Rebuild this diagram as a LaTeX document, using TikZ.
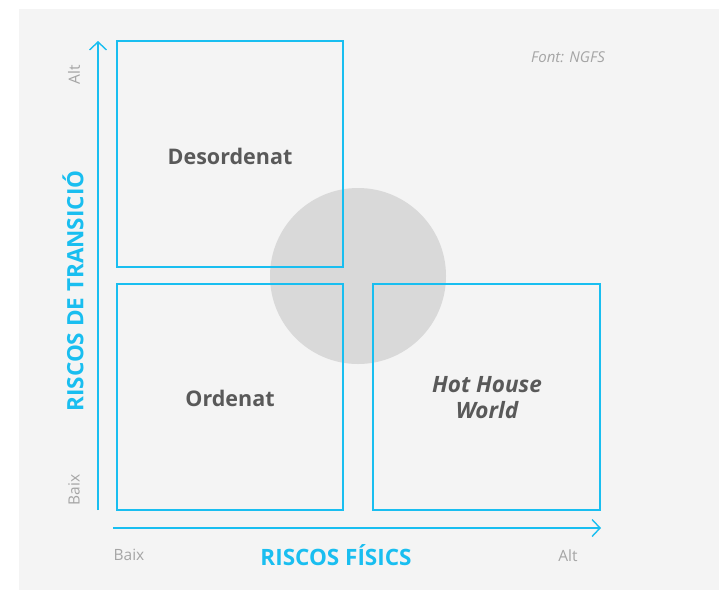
\documentclass[tikz,border=0pt]{standalone}
\usepackage{fontspec}
\setmainfont{Open Sans}
\usetikzlibrary{arrows.meta}
\definecolor{bluec}{RGB}{25,190,240}
\definecolor{bgc}{RGB}{244,244,244}
\definecolor{circc}{RGB}{217,217,217}
\definecolor{darktext}{RGB}{89,89,89}
\definecolor{lighttext}{RGB}{165,165,165}
\begin{document}
\begin{tikzpicture}[x=1pt,y=-1pt,
  quad/.style={draw=bluec, line width=1.3pt, inner sep=0pt},
  lbl/.style={text=darktext, font=\fontsize{21.5}{26}\selectfont\bfseries, align=center},
  axis/.style={draw=bluec, line width=1.4pt, -{Straight Barb[length=8pt,width=17pt,line width=1.4pt]}},
  axtitle/.style={text=bluec, font=\fontsize{22.5}{26}\selectfont\bfseries},
  tick/.style={text=lighttext, font=\fontsize{15.5}{18}\selectfont}]
\useasboundingbox (0,0) rectangle (719,590);
\fill[bgc] (19,9) rectangle (719,590);
\node[circle, fill=circc, minimum size=176pt, inner sep=0pt] (c) at (358,276) {};
\node[quad, minimum width=226pt, minimum height=226pt] (d) at (230,154) {};
\node[quad, minimum width=226pt, minimum height=226pt] (o) at (230,397) {};
\node[quad, minimum width=227pt, minimum height=226pt] (h) at (486.5,397) {};
\node[lbl] (dl) at (230,156) {Desordenat};
\node[lbl] (ol) at (230,398) {Ordenat};
\node[lbl, font=\fontsize{22.5}{26}\selectfont\bfseries\itshape] (hl) at (487,398) {Hot House\\World};
\coordinate (v0) at (98,510);
\coordinate (v1) at (98,41);
\coordinate (h0) at (113,528);
\coordinate (h1) at (601,528);
\draw[axis] (v0) -- (v1);
\draw[axis] (h0) -- (h1);
\node[axtitle, rotate=90] (vt) at (73,291) {RISCOS DE TRANSICIÓ};
\node[axtitle] (ht) at (336,555) {RISCOS FÍSICS};
\node[tick, rotate=90] (valt) at (74,75) {Alt};
\node[tick, rotate=90] (vbaix) at (74,490) {Baix};
\node[tick] (hbaix) at (129,555) {Baix};
\node[tick] (halt) at (568,556) {Alt};
\node[text=lighttext, font=\fontsize{15}{17}\selectfont\itshape] (src) at (568,57) {Font: NGFS};
\end{tikzpicture}
\end{document}
